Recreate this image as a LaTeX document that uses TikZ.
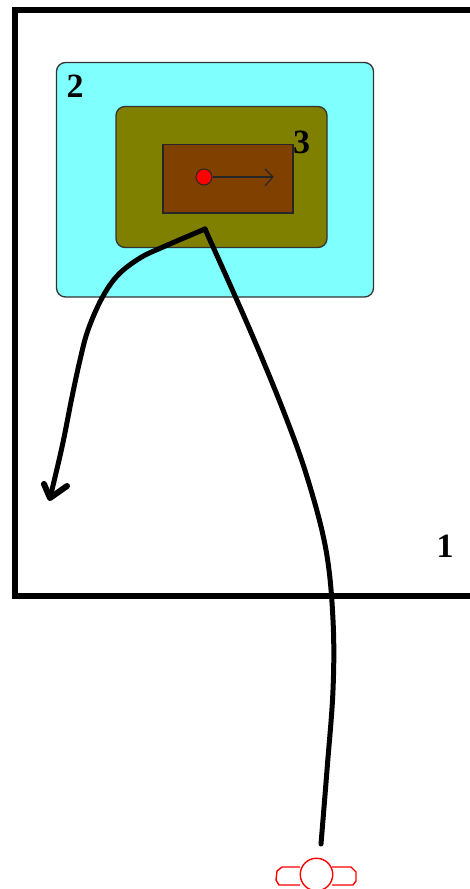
\documentclass[tikz,border=0pt]{standalone}
\usepackage{fontspec}
\setmainfont{Liberation Serif}
\definecolor{cyanbox}{RGB}{128,255,255}
\definecolor{olivebox}{RGB}{128,128,0}
\definecolor{brownbox}{RGB}{128,64,0}
\tikzset{
  thinbox/.style={draw=black!80,line width=1.3pt,rounded corners=9pt},
  frameline/.style={draw=black,line width=6pt,line join=miter},
  pathline/.style={draw=black,line width=5pt,line cap=round,line join=round},
  barbline/.style={draw=black,line width=6pt,line cap=round,line join=round},
  numlabel/.style={font=\fontsize{34}{34}\selectfont\bfseries,inner sep=0pt,text=black},
  redline/.style={draw=red,line width=1.4pt}
}
\begin{document}
\begin{tikzpicture}[x=1pt,y=-1pt]
\useasboundingbox (0,0) rectangle (470,889);
\clip (0,0) rectangle (470,889);
\fill[white] (0,0) rectangle (470,889);
\draw[frameline] (480,10) -- (14.5,10) -- (14.5,595.5) -- (480,595.5);
\path[thinbox,fill=cyanbox] (56.5,62.5) rectangle (373.5,297);
\path[thinbox,fill=olivebox] (116,106.5) rectangle (327,247.5);
\node[numlabel] (three) at (301.5,142) {3};
\path[draw=black!85,line width=1.4pt,fill=brownbox] (163,144.5) rectangle (293,213);
\node[numlabel] (two) at (75,86) {2};
\node[numlabel] (one) at (445,546) {1};
\node[circle,draw=black!85,fill=red,line width=1pt,minimum size=16pt,inner sep=0pt] (dot) at (204,177) {};
\coordinate (arrowend) at (273,177);
\draw[line width=1.1pt,black!85] (dot) -- (arrowend);
\draw[line width=1.1pt,black!85] (265,169) -- (arrowend) -- (265,186);
\coordinate (start) at (321,844);
\coordinate (turn) at (205,229);
\coordinate (tip) at (50,498);
\draw[pathline] plot[smooth,tension=.6] coordinates {(start) (327,770) (333,690) (333,620) (326,550) (308,480) (285,415) (250,330) (turn)};
\draw[pathline] plot[smooth,tension=.6] coordinates {(turn) (163,247) (140,258) (118,275) (102,298) (88,330) (80,360) (72,397) (62,447) (tip)};
\draw[barbline] (44,484) -- (tip) -- (67,486);
\draw[redline,fill=white] (300,867) -- (282,867) -- (277,871) -- (276,880) -- (279,885) -- (300,885);
\draw[redline,fill=white] (332,867) -- (351,867) -- (356,872) -- (356,881) -- (353,885) -- (332,885);
\node[circle,redline,fill=white,minimum size=32.5pt,inner sep=0pt] (head) at (316.5,874.5) {};
\end{tikzpicture}
\end{document}
